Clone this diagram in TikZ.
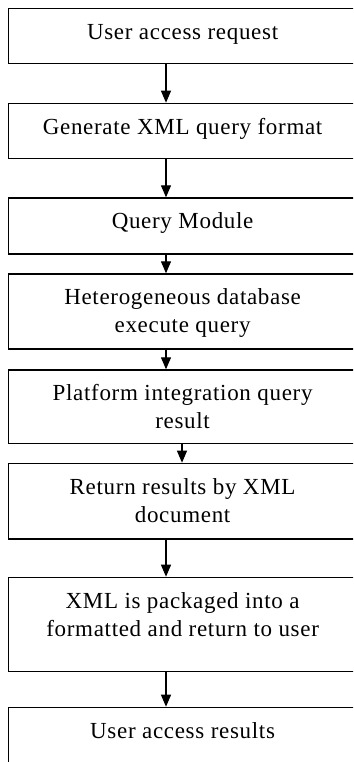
\documentclass[tikz,border=0pt]{standalone}
\usepackage{fontspec}
\setmainfont{Liberation Serif}[LetterSpace=3]
\usetikzlibrary{arrows.meta,calc}

% step box: fixed size, text set from the top edge down
\newcommand{\flowtext}[2]{%
  \parbox[c][#1][t]{348pt}{\centering\fontsize{23pt}{28pt}\selectfont
    \rule{0pt}{31pt}#2}}

\tikzset{
  stepbox/.style={draw, line width=1.2pt, inner sep=0pt, anchor=north west},
  flow/.style={draw, line width=1.2pt, -{Triangle[length=12pt,width=10pt]}}
}

\begin{document}
\begin{tikzpicture}[x=1pt,y=1pt]
  \clip (0,0) rectangle (353,-762);
  \fill[white] (0,0) rectangle (353,-762);

  \node[stepbox] (b1) at (8,-8.3)   {\flowtext{54.4pt}{User access request}};
  \node[stepbox] (b2) at (8,-102.7) {\flowtext{55.6pt}{Generate XML query format}};
  \node[stepbox] (b3) at (8,-197.3) {\flowtext{56pt}{Query Module}};
  \node[stepbox] (b4) at (8,-273.3) {\flowtext{75pt}{Heterogeneous database\\execute query}};
  \node[stepbox] (b5) at (8,-369.3) {\flowtext{73.4pt}{Platform integration query\\result}};
  \node[stepbox] (b6) at (8,-462.7) {\flowtext{75.6pt}{Return results by XML\\document}};
  \node[stepbox] (b7) at (8,-576.7) {\flowtext{94.3pt}{XML is packaged into a\\formatted and return to user}};
  \node[stepbox] (b8) at (8,-706.7) {\flowtext{80pt}{User access results}};

  % connectors, a little left of the box centres
  \draw[flow] ($(b1.south west)+(158,0)$) -- ($(b2.north west)+(158,0)$);
  \draw[flow] ($(b2.south west)+(158,0)$) -- ($(b3.north west)+(158,0)$);
  \draw[flow] ($(b3.south west)+(158,0)$) -- ($(b4.north west)+(158,0)$);
  \draw[flow] ($(b4.south west)+(158,0)$) -- ($(b5.north west)+(158,0)$);
  \draw[flow] ($(b5.south west)+(174,0)$) -- ($(b6.north west)+(174,0)$);
  \draw[flow] ($(b6.south west)+(158,0)$) -- ($(b7.north west)+(158,0)$);
  \draw[flow] ($(b7.south west)+(158,0)$) -- ($(b8.north west)+(158,0)$);
\end{tikzpicture}
\end{document}
